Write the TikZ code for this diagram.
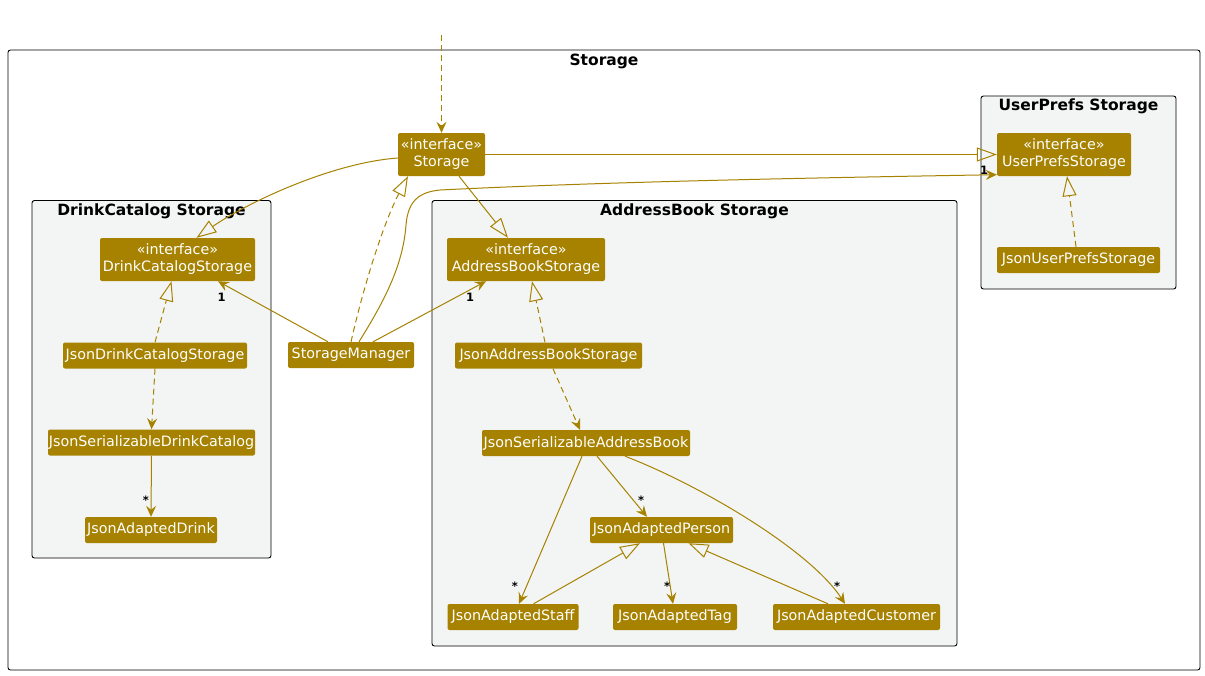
\documentclass[tikz,border=0pt]{standalone}
\usepackage{fontspec}
\setmainfont{DejaVu Sans}
\usetikzlibrary{arrows.meta}
\definecolor{gold}{RGB}{166,130,0}
\definecolor{pkgbg}{RGB}{243,245,244}
\begin{document}
\begin{tikzpicture}[x=1pt,y=-1pt,
 cls/.style={fill=gold, text=white, rounded corners=2pt, inner sep=0pt, minimum height=26pt, font=\fontsize{14.3}{17}\selectfont, align=center},
 icls/.style={cls, minimum height=43pt},
 pkg/.style={draw=black, line width=0.9pt, rounded corners=2.5pt, fill=pkgbg},
 ptitle/.style={font=\bfseries\fontsize{15.5}{18}\selectfont, inner sep=0pt},
 conn/.style={draw=gold, line width=1pt},
 assoc/.style={conn, -{Stealth[length=11pt,width=10pt,inset=4pt]}},
 dep/.style={assoc, dash pattern=on 6pt off 4pt},
 inh/.style={conn, -{Triangle[open,length=20pt,width=14pt]}},
 real/.style={inh, dash pattern=on 6pt off 4pt},
 mult/.style={font=\bfseries\fontsize{11.5}{13}\selectfont, inner sep=0pt, text=black}
]
\fill[white] (0,0) rectangle (1205,675);
\useasboundingbox (0,0) rectangle (1205,675);
% frames
\draw[line width=0.9pt, rounded corners=2.5pt] (8,50) rectangle (1200,670);
\node[ptitle] (tstorage) at (604,61) {Storage};
\draw[pkg] (981,96) rectangle (1176,289);
\node[ptitle] (tups) at (1078.5,106) {UserPrefs Storage};
\draw[pkg] (32,200.5) rectangle (271,558);
\node[ptitle] (tdc) at (151.5,211) {DrinkCatalog Storage};
\draw[pkg] (432,200.5) rectangle (957,646);
\node[ptitle] (tab) at (694.5,211) {AddressBook Storage};
% nodes
\node[icls, minimum width=87pt] (st) at (441.5,154.5) {«interface»\\Storage};
\node[icls, minimum width=134pt] (ups) at (1064,154.5) {«interface»\\UserPrefsStorage};
\node[cls, minimum width=163pt] (jups) at (1078.5,260) {JsonUserPrefsStorage};
\node[icls, minimum width=155pt] (dcs) at (177.5,259.5) {«interface»\\DrinkCatalogStorage};
\node[cls, minimum width=184pt] (jdcs) at (155,355.5) {JsonDrinkCatalogStorage};
\node[cls, minimum width=207pt] (jsdc) at (151.5,442.5) {JsonSerializableDrinkCatalog};
\node[cls, minimum width=132pt] (jad) at (151,530) {JsonAdaptedDrink};
\node[icls, minimum width=158pt] (abs) at (526,259.5) {«interface»\\AddressBookStorage};
\node[cls, minimum width=187pt] (jabs) at (548.5,355.5) {JsonAddressBookStorage};
\node[cls, minimum width=208pt] (jsab) at (586,443) {JsonSerializableAddressBook};
\node[cls, minimum width=143pt] (jap) at (661.5,530) {JsonAdaptedPerson};
\node[cls, minimum width=131pt] (jas) at (513,617) {JsonAdaptedStaff};
\node[cls, minimum width=124pt] (jat) at (675,617) {JsonAdaptedTag};
\node[cls, minimum width=167pt] (jac) at (856.5,617) {JsonAdaptedCustomer};
\node[cls, minimum width=126pt] (sm) at (351,355) {StorageManager};
\coordinate (topin) at (441.5,35);
% connectors
\draw[dep] (topin) -- (st.north);
\draw[inh] (st.east) -- (ups.west);
\draw[inh] ([yshift=-3.5pt]st.west) .. controls (330,163) and (245,204) .. ([xshift=19pt]dcs.north);
\draw[inh] ([xshift=17.5pt]st.south) -- ([xshift=-18pt]abs.north);
\draw[real] (sm.north) .. controls (365,280) and (385,220) .. ([xshift=-33.5pt]st.south);
\draw[assoc] ([xshift=8pt]sm.north) .. controls (385,300) and (403,265) .. (406,225) .. controls (408,200) and (420,192) .. (440,190) .. controls (600,182) and (800,178) .. ([yshift=1.5pt]ups.south west);
\draw[assoc] ([xshift=-23pt]sm.north) -- ([xshift=40.5pt]dcs.south);
\draw[assoc] ([xshift=22pt]sm.north) -- ([xshift=-40pt]abs.south);
\draw[real] ([xshift=-2.5pt]jups.north) -- ([xshift=3pt]ups.south);
\draw[real] (jdcs.north) -- ([xshift=-6pt]dcs.south);
\draw[dep] (jdcs.south) -- (jsdc.north);
\draw[assoc] (jsdc.south) -- (jad.north);
\draw[real] ([xshift=-3.5pt]jabs.north) -- ([xshift=6pt]abs.south);
\draw[dep] ([xshift=4.5pt]jabs.south) -- ([xshift=-6pt]jsab.north);
\draw[assoc] ([xshift=11pt]jsab.south) -- ([xshift=-14.5pt]jap.north);
\draw[assoc] ([xshift=-4pt]jsab.south) -- ([xshift=6pt]jas.north);
\draw[assoc] ([xshift=39pt]jsab.south) .. controls (700,485) and (810,550) .. ([xshift=-11.5pt]jac.north);
\draw[assoc] ([xshift=2pt]jap.south) -- ([xshift=-2pt]jat.north);
\draw[inh] ([xshift=20.5pt]jas.north) -- ([xshift=-21.5pt]jap.south);
\draw[inh] ([xshift=-28.5pt]jac.north) -- ([xshift=27pt]jap.south);
% multiplicities
\node[mult] (m1) at (221.7,297) {1};
\node[mult] (m2) at (470,297) {1};
\node[mult] (m3) at (984,170) {1};
\node[mult] (m4) at (146,500) {*};
\node[mult] (m5) at (641,500) {*};
\node[mult] (m6) at (515,586) {*};
\node[mult] (m7) at (667,586) {*};
\node[mult] (m8) at (837,586) {*};
\end{tikzpicture}
\end{document}
